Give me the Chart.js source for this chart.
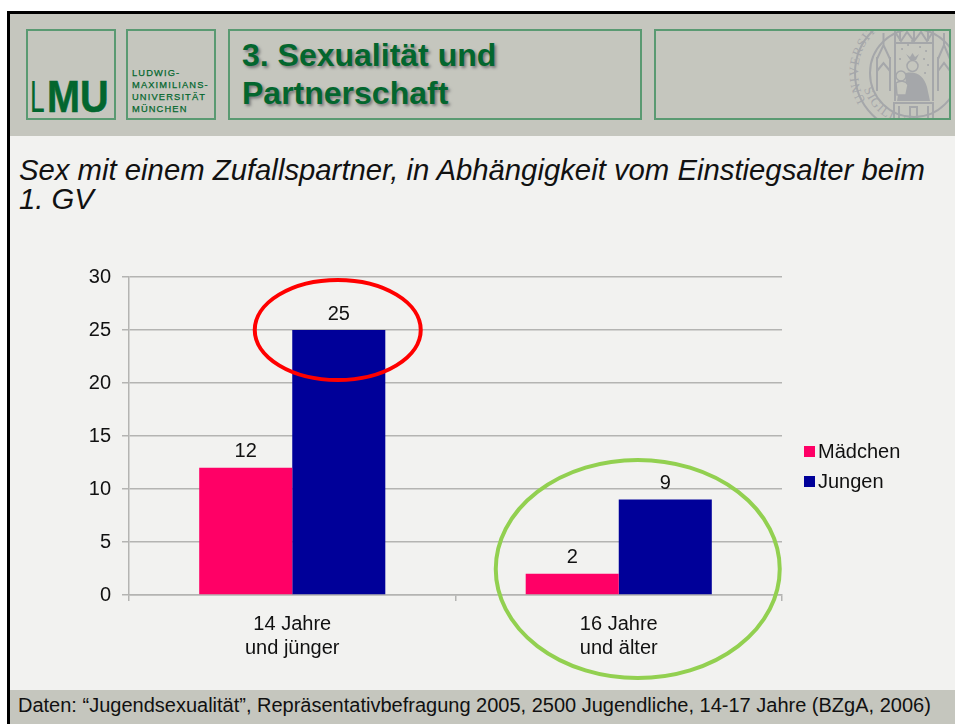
<!DOCTYPE html>
<html><head><meta charset="utf-8">
<script src="https://cdn.jsdelivr.net/npm/chart.js@4"></script>
<style>
html,body{margin:0;padding:0;background:#fff;overflow:hidden}
#page{position:relative;width:955px;height:724px;overflow:hidden;font-family:"Liberation Sans",Arial,sans-serif}
#page div{position:absolute;box-sizing:border-box}
#slide{left:7px;top:11px;width:960px;height:730px;background:#f2f2f0;border:3px solid #000;border-right:none;border-bottom:none}
#head{left:10px;top:14px;width:945px;height:122px;background:#c5c6be}
#foot{left:10px;top:690px;width:945px;height:34px;background:#c5c6be;color:#111;font-size:20px;line-height:31px;padding-left:8px;white-space:nowrap}
.box{border:2px solid #5a9a72;height:91px;top:29px}
#logo{left:26px;width:90px}
.lmu{top:75px;color:#03662e;font-size:44px;line-height:44px;transform-origin:left;white-space:nowrap}
#lmuL{left:30px;transform:scaleX(.6)}
#lmuMU{left:47px;font-weight:bold;transform:scaleX(.9);-webkit-text-stroke:.6px #03662e}
#uni{left:126px;width:90px}
#unitext{left:132px;top:67px;color:#03662e;font-size:9.3px;line-height:12.1px;letter-spacing:1.15px;-webkit-text-stroke:.25px #03662e;white-space:pre}
#titlebox{left:228px;width:414px}
#title{left:242px;top:36px;color:#03662e;font-weight:bold;font-size:32px;line-height:38px;text-shadow:2px 2px 3px #777;white-space:pre}
#sealbox{left:654px;width:297px;overflow:hidden}
#sub{left:19px;top:155px;width:930px;font-style:italic;font-size:29.3px;line-height:29px;color:#111}
canvas{position:absolute;left:60px;top:254px}
svg{position:absolute}
</style></head><body>
<div id="page">
<div id="slide"></div>
<div id="head"></div>
<div class="box" id="logo"></div><div class="lmu" id="lmuL">L</div><div class="lmu" id="lmuMU">MU</div>
<div class="box" id="uni"></div><div id="unitext">LUDWIG-
MAXIMILIANS-
UNIVERSITÄT
MÜNCHEN</div>
<div class="box" id="titlebox"></div>
<div id="title">3. Sexualität und
Partnerschaft</div>
<svg style="left:654px;top:29px" width="296" height="91" viewBox="0 0 296 91" fill="none" stroke="#a5a7aa">
<defs><path id="arcL" d="M212 72A55 55 0 0 1 272 -10"/><path id="arcB" d="M210 60A52 52 0 0 0 248 95"/></defs>
<circle cx="260" cy="44" r="59" stroke-width="2"/><circle cx="260" cy="44" r="44" stroke-width="2"/>
<text font-family="Liberation Serif,serif" font-size="13" fill="#a5a7aa" stroke="none" letter-spacing="1"><textPath href="#arcL">UNIVERSITAS</textPath></text>
<text font-family="Liberation Serif,serif" font-size="13" fill="#a5a7aa" stroke="none" letter-spacing="1"><textPath href="#arcB">SIGILLUM</textPath></text>
<path d="M241 0V72M279 0V72M241 14H279M241 3L247 12L253 3L260 12L267 3L273 12L279 3M246 0V12M260 0V12M274 0V12" stroke-width="2"/>
<path d="M223 28V62M236 28V62M223 30L229.500 16L236 30M229.500 16V4M223 42L229.500 34L236 42M284 28V62M296 28V62M284 30L290 16L296 30M290 16V4M284 42L290 34L296 42" stroke-width="2"/>
<path d="M248 20h.1M254 16h.1M266 18h.1M272 22h.1M270 30h.1M274 36h.1M246 30h.1M271 44h.1M258 12h.1" stroke-width="2" stroke-linecap="round" stroke-dasharray="1 3"/>
<path d="M256 31L252 25L256 28L258.500 24L261 28L265 25L262 31Z" fill="#a5a7aa" stroke="none"/>
<circle cx="258.500" cy="37" r="5.500" stroke-width="1.500"/>
<path d="M252 44C264 42 270 48 273 58L276 72H243L244 66C250 66 252 56 252 44Z" fill="#a5a7aa" stroke="none"/>
<circle cx="247" cy="47" r="5" fill="#c5c6be" stroke-width="1.500"/>
<path d="M242 54C246 51 252 52 254 56L252 66H243Z" fill="#c5c6be" stroke-width="1.500"/>
<path d="M240 74H279V91H240ZM245 77V91M274 77V91M256 78H263V91H256Z" stroke-width="2"/>
</svg>
<div class="box" id="sealbox"></div>
<div id="sub">Sex mit einem Zufallspartner, in Abhängigkeit vom Einstiegsalter beim<br>1. GV</div>
<div id="foot">Daten: “Jugendsexualität”, Repräsentativbefragung 2005, 2500 Jugendliche, 14-17 Jahre (BZgA, 2006)</div>
<canvas id="c" width="880" height="446"></canvas>
</div>
<script>
const categories=[["14 Jahre","und jünger"],["16 Jahre","und älter"]];
const seriesNames=["Mädchen","Jungen"];
const maedchen=[12,2];
const jungen=[25,9];
const colors=["#ff0066","#000099"];
const yMax=30, yStep=5;
const font='"Liberation Sans",Arial,sans-serif';
const ink='#111', gridCol='#b4b4b2';
const overlay={id:'overlay',afterDatasetsDraw(ch){
  const c=ch.ctx;c.save();
  c.font='20px '+font;c.fillStyle=ink;c.textAlign='center';c.textBaseline='bottom';
  ch.data.datasets.forEach((d,i)=>ch.getDatasetMeta(i).data.forEach((b,j)=>c.fillText(d.data[j],b.x,b.y-6)));
  // legend: tight marker-to-text gap as in the reference
  c.textAlign='left';c.textBaseline='middle';
  ch.data.datasets.forEach((d,i)=>{
    const ly=197+i*30;
    c.fillStyle=d.backgroundColor;c.fillRect(744,ly-5,11,11);
    c.fillStyle=ink;c.fillText(d.label,758,ly+1);
  });
  const x=ch.scales.x,y=ch.scales.y;
  const ring=(cat,val,dx,rx,ry,col)=>{c.beginPath();c.ellipse(x.getPixelForValue(cat)+dx,y.getPixelForValue(val),rx,ry,0,0,7);c.strokeStyle=col;c.lineWidth=4;c.stroke();};
  ring(0,25,45.5,83,50,'#ff0000');
  ring(1,2.45,19,142,109,'#92d050');
  c.restore();
}};
new Chart(document.getElementById('c'),{type:'bar',
 data:{labels:categories,datasets:[
  {label:seriesNames[0],data:maedchen,backgroundColor:colors[0]},
  {label:seriesNames[1],data:jungen,backgroundColor:colors[1]}]},
 plugins:[overlay],
 options:{responsive:false,maintainAspectRatio:false,animation:false,
  categoryPercentage:.57,barPercentage:1,
  layout:{autoPadding:false,padding:{top:17,bottom:0,left:0,right:158}},
  plugins:{tooltip:{enabled:false},legend:{display:false}},
  scales:{
   x:{afterFit(s){s.height=105},
      grid:{drawOnChartArea:false,drawTicks:true,tickLength:6,color:gridCol,lineWidth:1.5},
      border:{color:gridCol,width:1.5},
      ticks:{font:{size:20,family:font,lineHeight:1.2},color:ink,padding:11,maxRotation:0}},
   y:{min:0,max:yMax,afterFit(s){s.width=69},
      ticks:{stepSize:yStep,font:{size:20,family:font},color:ink,padding:11},
      grid:{color:gridCol,lineWidth:1.5,tickLength:7},
      border:{color:gridCol,width:1.5}}
  }}});
</script>
</body></html>
